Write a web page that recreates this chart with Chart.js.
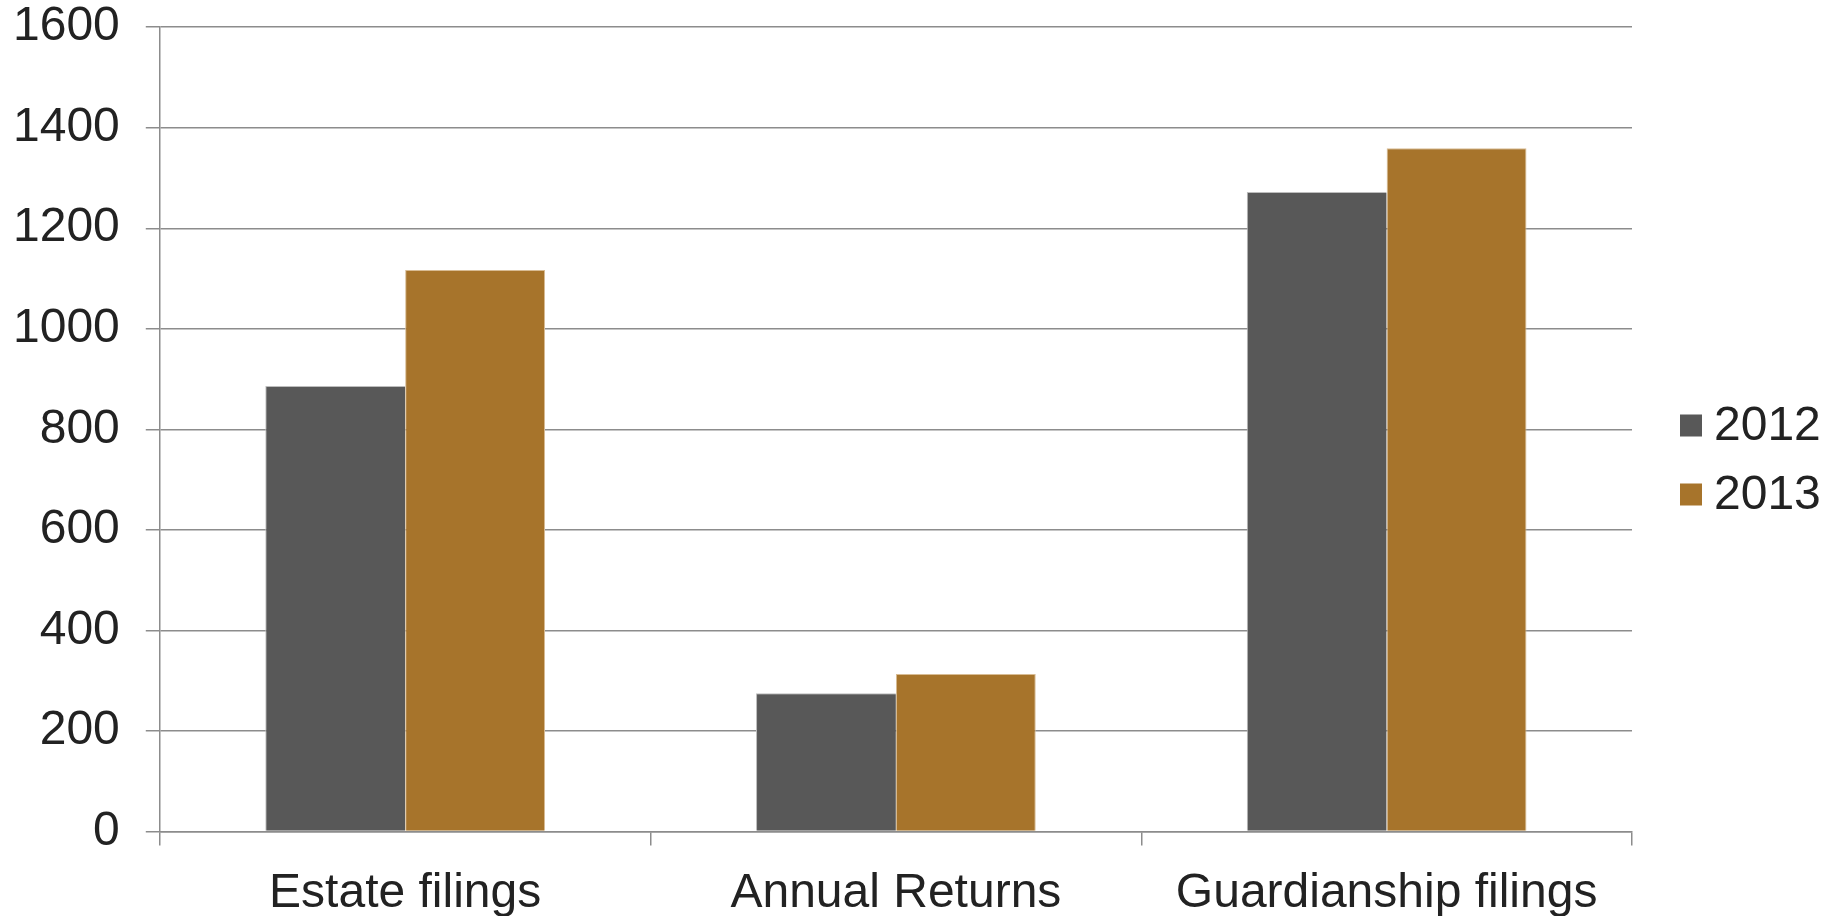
<!DOCTYPE html>
<html>
<head>
<meta charset="utf-8">
<script src="https://cdn.jsdelivr.net/npm/chart.js@4"></script>
<style>
  html, body { margin: 0; padding: 0; background: #fff; }
  #wrap { width: 1837px; height: 916px; }
</style>
</head>
<body>
<div id="wrap"><canvas id="chart" width="1837" height="916"></canvas></div>
<script>
// === DATOS ===
const categorias = ["Estate filings", "Annual Returns", "Guardianship filings"];
const serie2012 = [886, 275, 1272];
const serie2013 = [1117, 313, 1359];
const etiquetasY = [0, 200, 400, 600, 800, 1000, 1200, 1400, 1600];

const FUENTE = "'Liberation Sans', Arial, sans-serif";

// Leyenda dibujada a mano a la derecha del área del gráfico
const leyendaDerecha = {
  id: "leyendaDerecha",
  afterDraw(chart) {
    const c = chart.ctx;
    const sets = chart.data.datasets;
    const x = chart.chartArea.right + 48;
    const yCentro = 460;
    const paso = 69;
    c.save();
    c.font = "48px " + FUENTE;
    c.textBaseline = "middle";
    c.textAlign = "left";
    sets.forEach((ds, i) => {
      const y = yCentro + (i - (sets.length - 1) / 2) * paso;
      c.fillStyle = ds.backgroundColor;
      c.fillRect(x, y - 11, 22, 22);
      c.fillStyle = "#222";
      c.fillText(ds.label, x + 34, y + 1);
    });
    c.restore();
  }
};

const ctx = document.getElementById("chart").getContext("2d");
new Chart(ctx, {
  type: "bar",
  data: {
    labels: categorias,
    datasets: [
      { label: "2012", data: serie2012, backgroundColor: "#585858", borderColor: "#bdbdbd", borderWidth: { left: 1, right: 0, top: 1, bottom: 0 } },
      { label: "2013", data: serie2013, backgroundColor: "#A7742B", borderColor: "#d8bc94", borderWidth: { left: 1, right: 1, top: 1, bottom: 0 } }
    ]
  },
  options: {
    responsive: false,
    animation: false,
    layout: { padding: { left: -13, right: 205, top: 0, bottom: -27 } },
    datasets: { bar: { barPercentage: 1, categoryPercentage: 0.57 } },
    scales: {
      x: {
        grid: { offset: true, drawOnChartArea: false, drawTicks: true, tickLength: 14, color: "#8c8c8c", lineWidth: 1.5 },
        border: { color: "#8c8c8c", width: 1.5 },
        ticks: { color: "#222", font: { family: FUENTE, size: 48 }, padding: 20, maxRotation: 0 }
      },
      y: {
        min: etiquetasY[0],
        max: etiquetasY[etiquetasY.length - 1],
        afterBuildTicks: (axis) => { axis.ticks = etiquetasY.map(v => ({ value: v })); },
        grid: { color: "#8c8c8c", lineWidth: 1.5, tickLength: 14 },
        border: { color: "#8c8c8c", width: 1.5 },
        ticks: { color: "#222", font: { family: FUENTE, size: 48, lineHeight: 0.05 }, padding: 26, callback: (v) => String(v) }
      }
    },
    plugins: {
      legend: { display: false },
      tooltip: { enabled: false }
    }
  },
  plugins: [leyendaDerecha]
});
</script>
</body>
</html>
